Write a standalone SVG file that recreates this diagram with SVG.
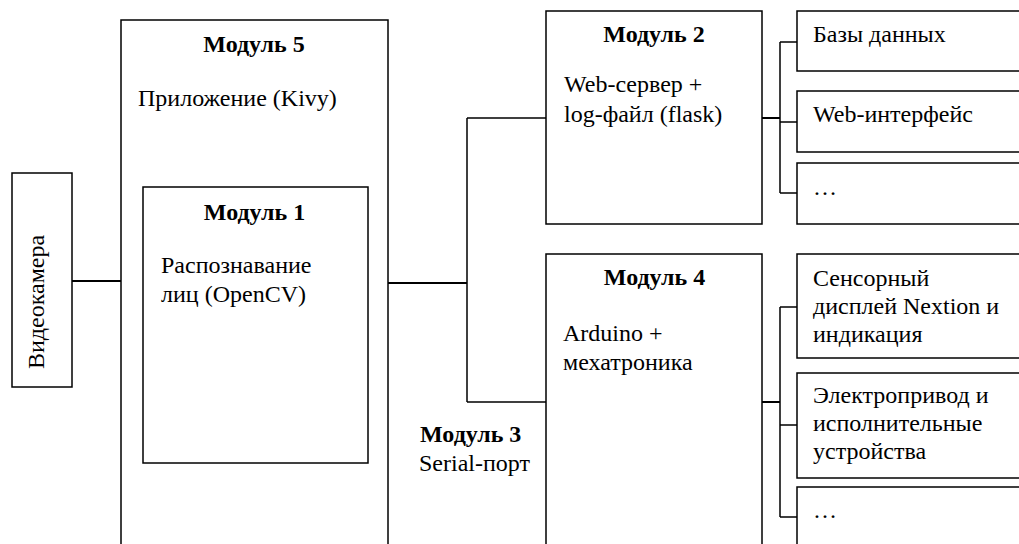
<svg xmlns="http://www.w3.org/2000/svg" width="1019" height="544" viewBox="0 0 1019 544">
<style>
.box{fill:#fff;stroke:#000;stroke-width:1.5}
.ln{fill:none;stroke:#000;stroke-width:1.5}
.lnt{fill:none;stroke:#000;stroke-width:2}
text{font-family:"Liberation Serif","Times New Roman",serif;font-size:24px;fill:#000}
.b{font-weight:bold}
.c{text-anchor:middle}
</style>
<rect width="1019" height="544" fill="#fff"/>
<g id="connectors">
<path class="lnt" d="M72 281H124"/>
<path class="lnt" d="M388 283H467"/>
<path class="ln" d="M467 118V402M467 118H546M467 402H546"/>
<path class="lnt" d="M762 118H780"/>
<path class="ln" d="M780 42V193M780 42H797M780 122H797M780 193H797"/>
<path class="lnt" d="M762 402H780"/>
<path class="ln" d="M780 307V517M780 307H797M780 425H797M780 517H797"/>
</g>
<g id="videocamera">
<rect class="box" x="12" y="173" width="60" height="214"/>
<text transform="translate(44,369) rotate(-90)">Видеокамера</text>
</g>
<g id="module5">
<rect class="box" x="121" y="20" width="267" height="540"/>
<text class="b c" x="254" y="52">Модуль 5</text>
<text x="138" y="106">Приложение (Kivy)</text>
</g>
<g id="module1">
<rect class="box" x="143" y="187" width="225" height="276"/>
<text class="b c" x="254.5" y="220">Модуль 1</text>
<text x="161" y="273">Распознавание</text>
<text x="161" y="302">лиц (OpenCV)</text>
</g>
<g id="module3">
<text class="b" x="420" y="442">Модуль 3</text>
<text x="419" y="471">Serial-порт</text>
</g>
<g id="module2">
<rect class="box" x="546" y="11" width="216" height="213"/>
<text class="b c" x="654" y="42">Модуль 2</text>
<text x="564" y="92">Web-сервер +</text>
<text x="564" y="122">log-файл (flask)</text>
</g>
<g id="module4">
<rect class="box" x="546" y="254" width="216" height="306"/>
<text class="b c" x="654.5" y="285">Модуль 4</text>
<text x="563" y="341">Arduino +</text>
<text x="563" y="370">мехатроника</text>
</g>
<g id="db">
<rect class="box" x="797" y="11" width="240" height="60"/>
<text x="813" y="42">Базы данных</text>
</g>
<g id="webui">
<rect class="box" x="797" y="91" width="240" height="61"/>
<text x="813" y="122">Web-интерфейс</text>
</g>
<g id="more1">
<rect class="box" x="797" y="163" width="240" height="61"/>
<text x="813" y="195">…</text>
</g>
<g id="display">
<rect class="box" x="797" y="254" width="240" height="104"/>
<text x="813" y="286">Сенсорный</text>
<text x="813" y="314">дисплей Nextion и</text>
<text x="813" y="342">индикация</text>
</g>
<g id="drive">
<rect class="box" x="797" y="373" width="240" height="105"/>
<text x="813" y="403">Электропривод и</text>
<text x="813" y="431">исполнительные</text>
<text x="813" y="459">устройства</text>
</g>
<g id="more2">
<rect class="box" x="797" y="487" width="240" height="70"/>
<text x="813" y="518">…</text>
</g>
</svg>
